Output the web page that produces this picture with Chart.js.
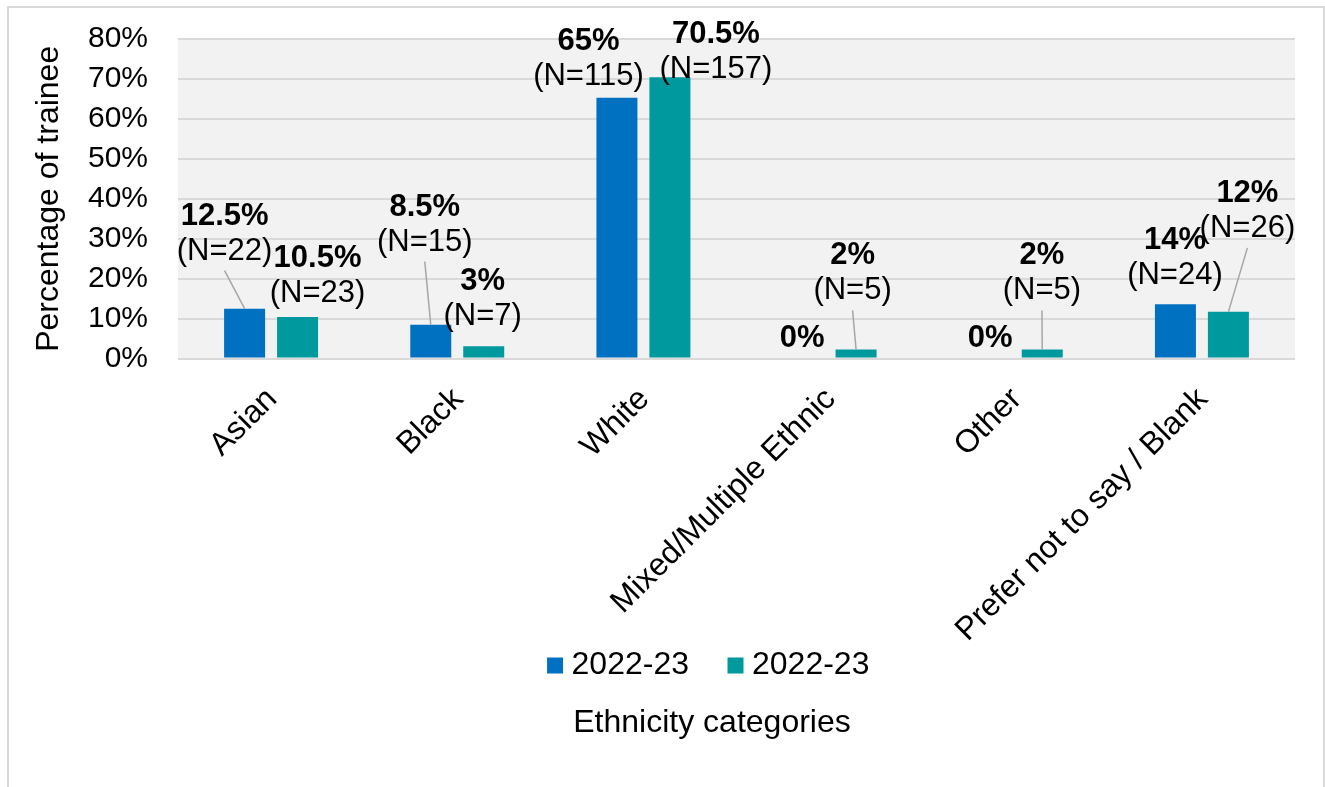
<!DOCTYPE html>
<html><head><meta charset="utf-8">
<script src="https://cdn.jsdelivr.net/npm/chart.js@4.4.0/dist/chart.umd.min.js"></script>
<style>
html,body{margin:0;padding:0;overflow:hidden;background:#fff;width:1325px;height:787px;}
#frame{position:absolute;left:7px;top:6px;width:1314px;height:900px;border:2px solid #d9d9d9;}
#c{position:absolute;left:0;top:0;}
</style></head><body>
<div id="frame"></div>
<canvas id="c" width="1394" height="787"></canvas>
<script>
// ---- data ----
const categories = ['Asian', 'Black', 'White', 'Mixed/Multiple Ethnic', 'Other', 'Prefer not to say / Blank'];
const seriesNames = ['2022-23', '2022-23'];
const valuesA = [12.5, 8.5, 65.3, 0, 0, 13.6];
const valuesB = [10.4, 3.1, 70.4, 2.3, 2.3, 11.7];
const pctLabelsA = ['12.5%', '8.5%', '65%', '0%', '0%', '14%'];
const nLabelsA = ['(N=22)', '(N=15)', '(N=115)', '', '', '(N=24)'];
const pctLabelsB = ['10.5%', '3%', '70.5%', '2%', '2%', '12%'];
const nLabelsB = ['(N=23)', '(N=7)', '(N=157)', '(N=5)', '(N=5)', '(N=26)'];
const yTickValues = [0, 10, 20, 30, 40, 50, 60, 70, 80];

// ---- label placement (pixel offsets from bar top) ----
const offsetsA = [[-20, -84], [-6, -109], [-28.5, -48], [-1, -12], [1, -12], [-0.5, -55.5]];
const offsetsB = [[20, -50.5], [-1, -56.5], [46, -34.5], [-3.5, -85], [-0.3, -85], [19, -110]];
const leadersA = [true, true, false, false, false, false];
const leadersB = [false, false, false, true, true, true];

const FONT = "'Liberation Sans', Arial, Helvetica, sans-serif";
const colA = '#0070C0';
const colB = '#009A9E';
Chart.defaults.font.family = FONT;
Chart.defaults.font.size = 32;
Chart.defaults.color = '#000';

const labelSets = [
  {pct: pctLabelsA, n: nLabelsA, offsets: offsetsA, leaders: leadersA},
  {pct: pctLabelsB, n: nLabelsB, offsets: offsetsB, leaders: leadersB}
];
const LINE_GAP = 35;

const bgPlugin = {
  id: 'plotBg',
  afterLayout(chart) {
    // let the rotated category labels extend below the axis box (no clipping)
    chart.scales.x.bottom = chart.height;
  },
  beforeDraw(chart) {
    const {ctx, chartArea: a} = chart;
    ctx.save();
    ctx.fillStyle = '#f2f2f2';
    ctx.fillRect(a.left, a.top - 1, a.right - a.left, a.bottom - a.top + 2);
    ctx.restore();
  }
};

const labelPlugin = {
  id: 'barLabels',
  afterDatasetsDraw(chart) {
    const ctx = chart.ctx;
    ctx.save();
    ctx.textAlign = 'center';
    ctx.textBaseline = 'alphabetic';
    labelSets.forEach((set, d) => {
      const meta = chart.getDatasetMeta(d);
      meta.data.forEach((bar, j) => {
        const [dx, dy] = set.offsets[j];
        const cx = bar.x + dx;
        const y1 = bar.y + dy;
        const y2 = y1 + LINE_GAP;
        if (set.leaders[j]) {
          ctx.strokeStyle = '#a6a6a6';
          ctx.lineWidth = 1.5;
          ctx.beginPath();
          ctx.moveTo(cx, y2 + 11);
          ctx.lineTo(bar.x, bar.y);
          ctx.stroke();
        }
        ctx.fillStyle = '#000';
        ctx.font = 'bold 31px ' + FONT;
        ctx.fillText(set.pct[j], cx, y1);
        if (set.n[j]) {
          ctx.font = '31px ' + FONT;
          ctx.fillText(set.n[j], cx, y2);
        }
      });
    });
    ctx.restore();
  }
};

new Chart(document.getElementById('c'), {
  type: 'bar',
  data: {
    labels: categories,
    datasets: [
      {label: seriesNames[0], data: valuesA, backgroundColor: colA, borderWidth: 0,
       barPercentage: 0.774, categoryPercentage: 0.569},
      {label: seriesNames[1], data: valuesB, backgroundColor: colB, borderWidth: 0,
       barPercentage: 0.774, categoryPercentage: 0.569}
    ]
  },
  options: {
    responsive: false,
    animation: false,
    devicePixelRatio: 1,
    layout: {padding: {left: 30, top: 39, right: 0, bottom: 45}},
    plugins: {
      tooltip: {enabled: false},
      legend: {
        position: 'bottom',
        labels: {usePointStyle: true, pointStyle: 'rect', boxWidth: 1, boxHeight: 16,
                 padding: 46, color: '#000', font: {size: 32}}
      },
      title: {
        display: true, position: 'bottom', text: 'Ethnicity categories',
        color: '#000', font: {size: 32, weight: 'normal'}, padding: {top: 12, bottom: 0}
      }
    },
    scales: {
      x: {
        grid: {display: false, drawTicks: false},
        border: {display: false},
        ticks: {autoSkip: false, maxRotation: 45, minRotation: 45, padding: 22, labelOffset: 1,
                color: '#000', font: {size: 32}},
        afterFit(s) { s.height = 245; }
      },
      y: {
        min: 0, max: 80,
        grid: {color: '#d9d9d9', lineWidth: 2, drawTicks: false},
        border: {display: false},
        afterBuildTicks(s) { s.ticks = yTickValues.map(v => ({value: v})); },
        ticks: {autoSkip: false, padding: 30, color: '#000', font: {size: 30}, callback: v => v + '%'},
        title: {display: true, text: 'Percentage of trainee', color: '#000',
                font: {size: 32}, padding: 0},
        afterFit(s) { s.width = 148; s.paddingTop = 0; s.paddingBottom = 0; }
      },
      yRight: {
        position: 'right',
        display: true,
        grid: {display: false, drawTicks: false},
        border: {display: false},
        ticks: {display: false},
        afterFit(s) { s.width = 99; }
      }
    }
  },
  plugins: [bgPlugin, labelPlugin]
});
</script></body></html>
